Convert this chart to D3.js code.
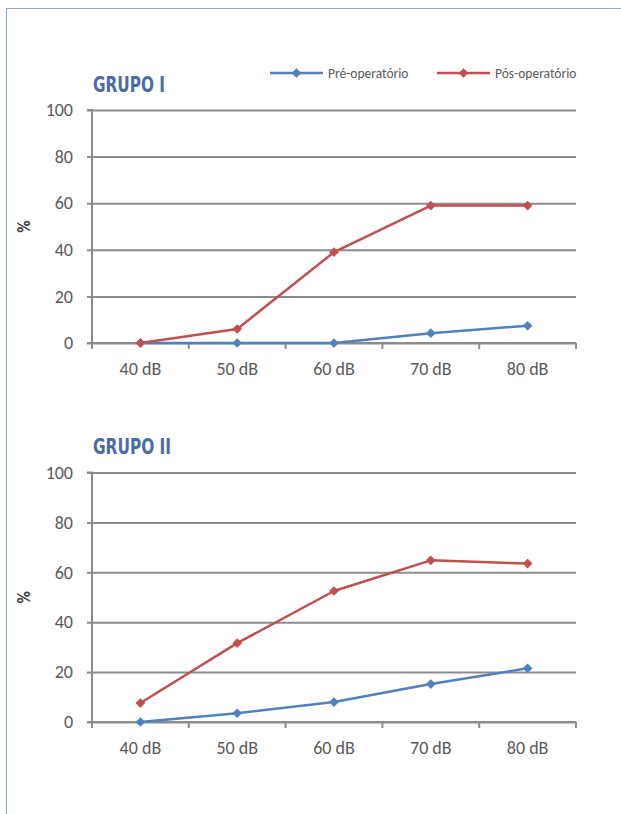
<!DOCTYPE html>
<html>
<head>
<meta charset="utf-8">
<script src="https://cdn.jsdelivr.net/npm/d3@7"></script>
<style>
  html, body { margin: 0; padding: 0; background: #fff; }
  svg { display: block; }
</style>
</head>
<body>
<svg id="fig" width="621" height="814"></svg>
<script>
// Hearing thresholds: share of patients (%) responding at each intensity
const categories = ["40 dB", "50 dB", "60 dB", "70 dB", "80 dB"];
const yTicks = [0, 20, 40, 60, 80, 100];
const seriesNames = ["Pré-operatório", "Pós-operatório"];
const seriesColors = ["#4f81bd", "#c0504d"];

const grupo1Pre = [0, 0, 0, 4.2, 7.4];
const grupo1Pos = [0, 6, 39, 59, 59];
const grupo2Pre = [0, 3.5, 8, 15.2, 21.5];
const grupo2Pos = [7.6, 31.6, 52.5, 64.8, 63.5];

const panels = [
  { title: "GRUPO I", pre: grupo1Pre, pos: grupo1Pos, top: 110, bottom: 343, titleY: 92 },
  { title: "GRUPO II", pre: grupo2Pre, pos: grupo2Pos, top: 472.5, bottom: 722, titleY: 454 }
];

const svg = d3.select("#fig");
const left = 92, right = 576;
const gridColor = "#8c8c8c";
const textColor = "#595959";
const font = "Carlito, 'Liberation Sans', Arial, sans-serif";

// Page frame
svg.append("path")
  .attr("d", "M6.5,814 L6.5,8.5 L621,8.5")
  .attr("fill", "none")
  .attr("stroke", "#8fa9d6")
  .attr("stroke-width", 1.2);

const x = d3.scaleBand().domain(categories).range([left, right]);
const xc = c => x(c) + x.bandwidth() / 2;

const diamond = d3.symbol().type(d3.symbolDiamond2).size(60);

panels.forEach(p => {
  const y = d3.scaleLinear().domain([0, 100]).range([p.bottom, p.top]);
  const g = svg.append("g");

  // horizontal gridlines
  g.append("g")
    .attr("transform", `translate(${left},0)`)
    .call(d3.axisLeft(y).tickValues(yTicks).tickSize(-(right - left)).tickFormat(""))
    .call(s => s.select(".domain").remove())
    .call(s => s.selectAll("line").attr("stroke", gridColor).attr("stroke-width", 2));

  // y axis
  g.append("g")
    .attr("transform", `translate(${left},0)`)
    .call(d3.axisLeft(y).tickValues(yTicks).tickSize(5).tickPadding(14))
    .call(s => s.select(".domain").attr("stroke", gridColor).attr("stroke-width", 2)
      .attr("d", `M-5,${p.top}H0V${p.bottom}H-5`))
    .call(s => s.selectAll("line").attr("stroke", gridColor).attr("stroke-width", 2))
    .call(s => s.selectAll("text").attr("fill", textColor)
      .style("font-family", font).style("font-size", "18px"));

  // x axis: labels centred in bands, ticks at band edges
  const xa = g.append("g")
    .attr("transform", `translate(0,${p.bottom})`)
    .call(d3.axisBottom(x).tickSize(0).tickPadding(19))
    .call(s => s.select(".domain").attr("stroke", gridColor).attr("stroke-width", 2)
      .attr("d", `M${left},0H${right}`))
    .call(s => s.selectAll("text").attr("fill", textColor)
      .style("font-family", font).style("font-size", "18px"));
  const edges = categories.map(c => x(c)).concat([x(categories[categories.length - 1]) + x.bandwidth()]);
  xa.selectAll("line.edge").data(edges).join("line")
    .attr("class", "edge")
    .attr("x1", d => d).attr("x2", d => d)
    .attr("y1", 0).attr("y2", 6)
    .attr("stroke", gridColor).attr("stroke-width", 2);

  // y axis title
  g.append("text")
    .attr("transform", `translate(30,${(p.top + p.bottom) / 2}) rotate(-90)`)
    .attr("text-anchor", "middle")
    .attr("fill", "#404040")
    .style("font-family", font).style("font-size", "17px").style("font-weight", "bold")
    .text("%");

  // panel title
  g.append("text")
    .attr("x", 93).attr("y", p.titleY)
    .attr("fill", "#4a6ba6")
    .attr("textLength", p.title === "GRUPO I" ? 72 : 78)
    .attr("lengthAdjust", "spacingAndGlyphs")
    .style("font-family", "'Liberation Sans Narrow', 'DejaVu Sans Condensed', sans-serif")
    .style("font-size", "21px").style("font-weight", "bold")
    .text(p.title);

  // series
  const line = d3.line().x((d, i) => xc(categories[i])).y(d => y(d));
  [p.pre, p.pos].forEach((vals, k) => {
    g.append("path")
      .datum(vals)
      .attr("d", line)
      .attr("fill", "none")
      .attr("stroke", seriesColors[k])
      .attr("stroke-width", 2.5)
      .attr("stroke-linejoin", "round");
    g.selectAll(null).data(vals).join("path")
      .attr("transform", (d, i) => `translate(${xc(categories[i])},${y(d)})`)
      .attr("d", diamond)
      .attr("fill", seriesColors[k]);
  });
});

// legend
const legendItems = [
  { x1: 270, x2: 323, tx: 328 },
  { x1: 437, x2: 490, tx: 495 }
];
const lg = svg.append("g");
legendItems.forEach((it, k) => {
  lg.append("line")
    .attr("x1", it.x1).attr("x2", it.x2).attr("y1", 73).attr("y2", 73)
    .attr("stroke", seriesColors[k]).attr("stroke-width", 2.5);
  lg.append("path")
    .attr("transform", `translate(${(it.x1 + it.x2) / 2},73)`)
    .attr("d", diamond)
    .attr("fill", seriesColors[k]);
  lg.append("text")
    .attr("x", it.tx).attr("y", 77.5)
    .attr("fill", textColor)
    .style("font-family", font).style("font-size", "13.5px")
    .text(seriesNames[k]);
});
</script>
</body>
</html>
